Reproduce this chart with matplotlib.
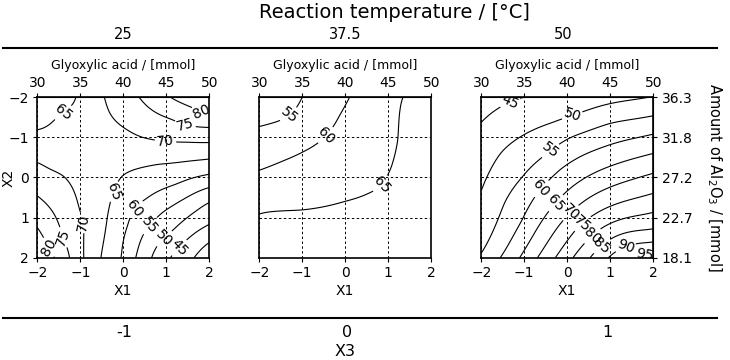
import numpy as np
import matplotlib
matplotlib.use("Agg")
import matplotlib.pyplot as plt
from matplotlib.lines import Line2D

plt.rcParams["font.family"] = "DejaVu Sans"

# axes and labels
x_ticks = [-2, -1, 0, 1, 2]
y_ticks = [-2, -1, 0, 1, 2]
glyoxylic_labels = ["30", "35", "40", "45", "50"]
al2o3_labels = ["36.3", "31.8", "27.2", "22.7", "18.1"]
temperatures = ["25", "37.5", "50"]
x3_values = ["-1", "0", "1"]
levels = list(range(35, 101, 5))

# contour readings (X1, X2, yield), X3 = -1
p1_x1 = [-2, -1.5, -1.1,
         -0.44, -0.32, 0.06, 0.45, 0.95, 1.5, 2,
         0.37, 1.1, 1.5, 2,
         1.1, 1.7, 2,
         -2, -1.71, -1.4, -1.17, -1.02, -0.92, -0.92,
         -2, -1.63, -1.4, -1.25,
         -2, -1.75, -1.6,
         2, 0.83, -0.02, -0.2, -0.32, -0.52,
         2, 1.22, 0.52, 0.25, 0.1, -0.05,
         2, 0.91, 0.64, 0.45, 0.29,
         2, 1.14, 0.91, 0.66,
         2, 1.45, 1.25, 1.1,
         2, 1.65,
         -2, 2, -2, 2]
p1_x2 = [-1.19, -1.55, -2,
         -2, -1.62, -1.21, -1.0, -0.9, -0.88, -0.87,
         -2, -1.46, -1.3, -1.25,
         -2, -1.7, -1.55,
         -0.375, -0.21, -0.04, 0.29, 0.79, 1.2, 2,
         0.46, 0.875, 1.5, 2,
         1.25, 1.7, 2,
         -0.46, -0.33, -0.04, 0.3, 0.71, 2,
         -0.08, 0.17, 0.54, 0.79, 1.2, 2,
         0.25, 0.875, 1.17, 1.46, 2,
         0.625, 1.33, 1.54, 2,
         1.17, 1.58, 1.79, 2,
         1.62, 2,
         -2, -2, 2, 2]
p1_z = [65] * 3 + [70] * 7 + [75] * 4 + [80] * 3 + [70] * 7 + [75] * 4 + [80] * 3 \
    + [65] * 6 + [60] * 6 + [55] * 5 + [50] * 4 + [45] * 4 + [40] * 2 + [62, 84, 84, 37]

# X3 = 0
p2_x1 = [-2, -1.29, -1.0,
         -2, -1.41, -0.98, -0.44, -0.13, 0.1,
         -2, -1.02, -0.02, 0.53, 0.8, 1.07, 1.22, 1.34,
         -2, 2, -2, 2, 2, 0]
p2_x2 = [-1.27, -1.55, -2,
         -0.18, -0.43, -0.64, -1.05, -1.55, -2,
         0.91, 0.81, 0.6, 0.4, 0.23, -0.26, -0.93, -2,
         -2, 2, 2, -2, 0, 2]
p2_z = [55] * 3 + [60] * 6 + [65] * 8 + [52, 68, 66.5, 66.5, 67.5, 67]

# X3 = 1
p3_x1 = [-2, -1.54, -1.2,
         -2, -1.81, -1.56, -1.02, -0.32, 0.13, 0.58, 2,
         -2, -1.48, -1.02, -0.55, 0.06, 0.99, 2,
         -1.56, -1.02, -0.67, -0.17, 0.76, 2,
         -1.1, -0.71, -0.25, 0.29, 2,
         -0.7, 0.1, 2,
         -0.27, 0.25, 2,
         0.15, 0.56, 2,
         0.54, 0.75, 2,
         0.95, 1.3, 2,
         1.5, 1.8,
         -2, 2]
p3_x2 = [-1.4, -1.75, -2,
         0.35, -0.15, -0.64, -1.05, -1.34, -1.5, -1.71, -2,
         1.95, 0.59, 0.02, -0.48, -1.05, -1.38, -1.53,
         2, 1.09, 0.3, -0.23, -0.72, -1.09,
         2, 1.25, 0.63, 0.1, -0.6,
         2, 0.88, -0.11,
         2, 1.17, 0.39,
         2, 1.54, 0.88,
         2, 1.7, 1.33,
         2, 1.72, 1.66,
         2, 1.9,
         -2, 2]
p3_z = [45] * 3 + [50] * 8 + [55] * 7 + [60] * 6 + [65] * 5 + [70] * 3 + [75] * 3 \
    + [80] * 3 + [85] * 3 + [90] * 3 + [95] * 2 + [42, 97]

# where the contour labels sit
p1_lab_x1 = [-1.4, 0.98, 1.45, 1.85, -0.22, -0.92, -1.42, -1.75, 0.28, 0.62, 0.95, 1.3]
p1_lab_x2 = [-1.62, -0.88, -1.35, -1.68, 0.35, 1.12, 1.5, 1.75, 0.78, 1.2, 1.52, 1.75]
p2_lab_x1 = [-1.3, -0.45, 0.85]
p2_lab_x2 = [-1.55, -1.05, 0.18]
p3_lab_x1 = [-1.3, 0.13, -0.4, -0.62, -0.22, 0.1, 0.33, 0.62, 0.78, 1.35, 1.8]
p3_lab_x2 = [-1.8, -1.5, -0.68, 0.26, 0.68, 0.9, 1.12, 1.5, 1.68, 1.72, 1.88]

panels = [
    (p1_x1, p1_x2, p1_z, p1_lab_x1, p1_lab_x2, 0.01),
    (p2_x1, p2_x2, p2_z, p2_lab_x1, p2_lab_x2, 0.01),
    (p3_x1, p3_x2, p3_z, p3_lab_x1, p3_lab_x2, 0.4),
]


def kernel(r2):
    # thin plate spline, r^2 log r
    return 0.5 * r2 * np.log(np.maximum(r2, 1e-300))


def surface(x1, x2, z, smooth):
    x1 = np.array(x1, float)
    x2 = np.array(x2, float)
    z = np.array(z, float)
    n = len(z)
    K = kernel((x1[:, None] - x1[None, :]) ** 2 + (x2[:, None] - x2[None, :]) ** 2)
    K += smooth * np.eye(n)
    Q = np.column_stack([np.ones(n), x1, x2])
    A = np.block([[K, Q], [Q.T, np.zeros((3, 3))]])
    sol = np.linalg.solve(A, np.concatenate([z, np.zeros(3)]))
    w, a = sol[:n], sol[n:]
    g = np.linspace(-2, 2, 161)
    gx, gy = np.meshgrid(g, g)
    px, py = gx.ravel(), gy.ravel()
    Kg = kernel((px[:, None] - x1[None, :]) ** 2 + (py[:, None] - x2[None, :]) ** 2)
    zz = (Kg @ w + a[0] + a[1] * px + a[2] * py).reshape(gx.shape)
    return gx, gy, zz


fig = plt.figure(figsize=(7.3, 3.6), dpi=100)
lefts = [0.0511, 0.3552, 0.6593]

for i, (x1, x2, z, lx, ly, smooth) in enumerate(panels):
    ax = fig.add_axes([lefts[i], 0.2842, 0.2355, 0.4456])
    gx, gy, zz = surface(x1, x2, z, smooth)
    cs = ax.contour(gx, gy, zz, levels=levels, colors="k", linewidths=0.8)
    ax.clabel(cs, fontsize=10, fmt="%d", manual=list(zip(lx, ly)), inline=True, inline_spacing=2)

    ax.set_xlim(-2, 2)
    ax.set_ylim(2, -2)
    ax.set_xticks(x_ticks)
    ax.set_yticks(y_ticks)
    ax.grid(True, color="k", linestyle=(0, (2.5, 2.5)), linewidth=0.7)
    ax.tick_params(direction="out", length=3, width=0.8, labelsize=10, pad=3)
    ax.set_xlabel("X1", fontsize=10, labelpad=3)
    for s in ax.spines.values():
        s.set_linewidth(1.2)

    if i == 0:
        ax.set_ylabel("X2", fontsize=10)
        ax.yaxis.set_label_coords(-0.125, 0.5)
    else:
        ax.tick_params(axis="y", left=False, labelleft=False)

    top = ax.secondary_xaxis("top")
    top.set_xticks(x_ticks, labels=glyoxylic_labels)
    top.tick_params(direction="out", length=3, width=0.8, labelsize=10, pad=2)
    top.set_xlabel("Glyoxylic acid / [mmol]", fontsize=9, labelpad=5)

    if i == 2:
        right = ax.secondary_yaxis("right")
        right.set_yticks(y_ticks, labels=al2o3_labels)
        right.tick_params(direction="out", length=3, width=0.8, labelsize=10, pad=3)
        right.set_ylabel("Amount of Al$_2$O$_3$ / [mmol]", fontsize=10.5, rotation=270,
                         labelpad=22)

# reaction temperature header
fig.text(0.540, 0.965, "Reaction temperature / [°C]", ha="center", va="center", fontsize=14)
for x, t in zip([0.1685, 0.4726, 0.771], temperatures):
    fig.text(x, 0.904, t, ha="center", va="center", fontsize=10.5)
fig.add_artist(Line2D([0.004, 0.982], [0.867, 0.867], transform=fig.transFigure, color="k", lw=1.5))

# X3 footer
fig.add_artist(Line2D([0.004, 0.982], [0.117, 0.117], transform=fig.transFigure, color="k", lw=1.5))
for x, t in zip([0.17, 0.475, 0.832], x3_values):
    fig.text(x, 0.076, t, ha="center", va="center", fontsize=11.5)
fig.text(0.473, 0.025, "X3", ha="center", va="center", fontsize=11.5)

fig.savefig("out.png", dpi=100)
